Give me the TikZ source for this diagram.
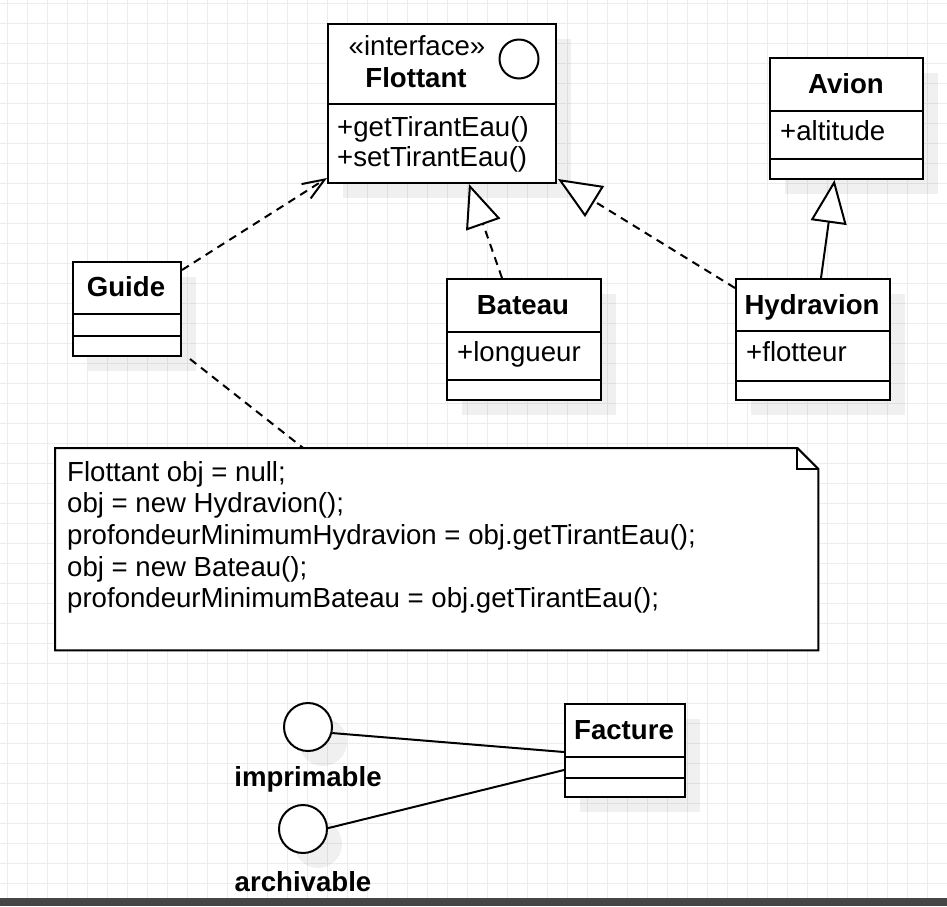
\documentclass[tikz,border=0pt]{standalone}
\usepackage{fontspec}
\setmainfont{Liberation Sans}
\usetikzlibrary{arrows.meta,shadows}

\definecolor{gridgrey}{RGB}{236,236,236}
\definecolor{bargrey}{RGB}{70,70,70}

\newcommand{\umlsize}{\fontsize{27.6}{32}\selectfont}
\newcommand{\umldivider}[2]{\draw[line width=2pt] ([yshift=-#2]#1.north west) -- ([yshift=-#2]#1.north east);}

\tikzset{
  gridline/.style={draw=gridgrey, line width=1pt},
  umlclass/.style={draw, line width=2pt, fill=white, anchor=north west, inner sep=0pt,
    general shadow={fill=black, fill opacity=0.06, shadow xshift=15pt, shadow yshift=-15pt}},
  classname/.style={anchor=base, inner sep=0pt, font=\umlsize\bfseries},
  member/.style={anchor=base west, inner sep=0pt},
  lollipop/.style={circle, draw, line width=2pt, fill=white, minimum size=48pt, inner sep=0pt,
    general shadow={fill=black, fill opacity=0.06, shadow xshift=15pt, shadow yshift=-15pt}},
  realize/.style={line width=2pt, dash pattern=on 8pt off 6pt, -{Triangle[length=43pt, width=36pt, fill=white]}},
  extend/.style={line width=2pt, -{Triangle[length=43pt, width=36pt, fill=white]}},
  depend/.style={line width=2pt, dash pattern=on 8pt off 6pt, -{Straight Barb[length=22pt, width=17pt]}},
  notelink/.style={line width=2pt, dash pattern=on 8pt off 6pt},
  assoc/.style={line width=2pt}
}

\begin{document}
\begin{tikzpicture}[x=1pt, y=-1pt, every node/.style={font=\umlsize}]
  \useasboundingbox (0,0) rectangle (947,906);

  % Background grid
  \foreach \gx in {0,...,46} \draw[gridline] (7.3+20*\gx,0) -- (7.3+20*\gx,906);
  \foreach \gy in {0,...,45} \draw[gridline] (0,3.3+20*\gy) -- (947,3.3+20*\gy);

  % Interface Flottant
  \node[umlclass, minimum width=228pt, minimum height=159pt] (flottant) at (327,23) {};
  \umldivider{flottant}{81pt}
  \node[circle, draw, line width=2pt, minimum size=39pt, inner sep=0pt] (flotcircle) at (519,59) {};
  \node[anchor=base, inner sep=0pt] (flotstereo) at (417,55.5) {«interface»};
  \node[classname] (flotname) at (416,87) {Flottant};
  \node[member] (flotget) at (337,136.5) {+getTirantEau()};
  \node[member] (flotset) at (337,166.5) {+setTirantEau()};

  % Class Avion
  \node[umlclass, minimum width=153pt, minimum height=121pt] (avion) at (769,57) {};
  \umldivider{avion}{54pt}
  \umldivider{avion}{102pt}
  \node[classname] (avionname) at (846,93.5) {Avion};
  \node[member] (avionalt) at (780,140.7) {+altitude};

  % Class Guide
  \node[umlclass, minimum width=108pt, minimum height=94pt] (guide) at (72,261) {};
  \umldivider{guide}{53pt}
  \umldivider{guide}{75pt}
  \node[classname] (guidename) at (126,296.7) {Guide};

  % Class Bateau
  \node[umlclass, minimum width=154pt, minimum height=121pt] (bateau) at (446,278) {};
  \umldivider{bateau}{54pt}
  \umldivider{bateau}{102pt}
  \node[classname] (bateauname) at (523,314.3) {Bateau};
  \node[member] (bateaulong) at (457,361.7) {+longueur};

  % Class Hydravion
  \node[umlclass, minimum width=154pt, minimum height=121pt] (hydravion) at (735,278) {};
  \umldivider{hydravion}{53pt}
  \umldivider{hydravion}{103pt}
  \node[classname] (hydravionname) at (812,314) {Hydravion};
  \node[member] (hydravionflot) at (746,361.7) {+flotteur};

  % Note with code
  \node[anchor=north west, minimum width=763pt, minimum height=202pt, inner sep=0pt] (note) at (55,448) {};
  \draw[line width=2pt, fill=white] (note.north west) -- ([xshift=-21pt]note.north east)
    -- ([yshift=-21pt]note.north east) -- (note.south east) -- (note.south west) -- cycle;
  \draw[line width=2pt] ([xshift=-21pt]note.north east) -- ([xshift=-21pt,yshift=-21pt]note.north east)
    -- ([yshift=-21pt]note.north east);
  \foreach \txt [count=\i] in {{Flottant obj = null;}, {obj = new Hydravion();},
      {profondeurMinimumHydravion = obj.getTirantEau();}, {obj = new Bateau();},
      {profondeurMinimumBateau = obj.getTirantEau();}}
    \node[member] (code\i) at (67,449.3+31.7*\i) {\txt};

  % Class Facture and its interfaces
  \node[umlclass, minimum width=120pt, minimum height=93pt] (facture) at (564,703) {};
  \umldivider{facture}{54pt}
  \umldivider{facture}{75pt}
  \node[classname] (facturename) at (624,739.3) {Facture};

  \node[lollipop] (imprimable) at (308,727) {};
  \node[lollipop] (archivable) at (303,829) {};
  \node[classname] (imprimablelabel) at (308,786.5) {imprimable};
  \node[classname] (archivablelabel) at (303,891) {archivable};

  % Connectors
  \draw[depend] ([yshift=-9pt]guide.north east) -- ([yshift=6pt]flottant.south west);
  \draw[notelink] ([xshift=8pt,yshift=-2pt]guide.south east) -- ([xshift=-133.5pt]note.north);
  \draw[realize] ([xshift=-22pt]bateau.north) -- ([xshift=142pt]flottant.south west);
  \draw[realize] ([yshift=-10pt]hydravion.north west) -- ([xshift=1pt,yshift=5pt]flottant.south east);
  \draw[extend] ([xshift=8pt]hydravion.north) -- ([xshift=-12pt]avion.south);
  \draw[assoc] (imprimable.-14) -- ([yshift=-1.5pt]facture.west);
  \draw[assoc] (archivable.2) -- ([yshift=-19.5pt]facture.west);

  % Bottom bar
  \fill[bargrey] (0,898) rectangle (947,906);
\end{tikzpicture}
\end{document}
